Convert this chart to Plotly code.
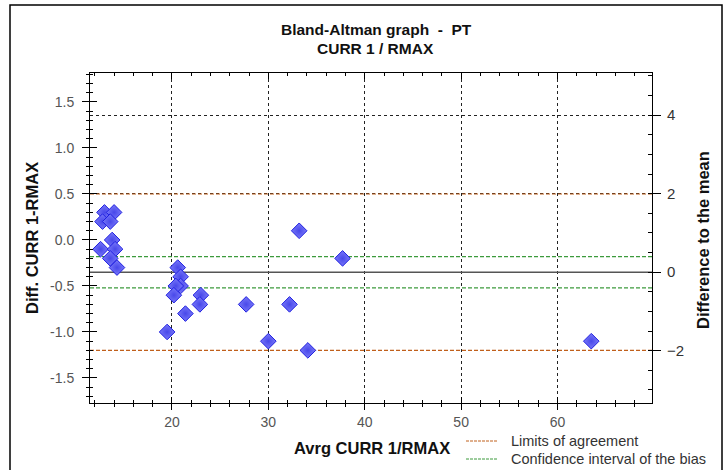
import plotly.graph_objects as go

# ---- data ----
avg_vals = [13.0, 14.0, 12.8, 13.6, 13.8, 12.6, 14.1, 13.6, 14.3,
            20.6, 20.9, 20.9, 20.4, 20.2, 23.0, 22.9, 21.4, 19.5,
            27.7, 30.0, 33.2, 37.7, 32.2, 34.1, 63.5]
diff_vals = [0.3, 0.3, 0.2, 0.2, 0.0, -0.1, -0.1, -0.2, -0.3,
             -0.3, -0.4, -0.5, -0.5, -0.6, -0.6, -0.7, -0.8, -1.0,
             -0.7, -1.1, 0.1, -0.2, -0.7, -1.2, -1.1]

bias = -0.35
loa_upper = 0.50
loa_lower = -1.20
ci_upper = -0.18
ci_lower = -0.52
sd_unit = 0.4266  # one unit of the right axis, in left-axis units

x_range = [11.5, 69.8]
y_range = [-1.772, 1.815]
y2_range = [(y_range[0] - bias) / sd_unit, (y_range[1] - bias) / sd_unit]

x_ticks = [20, 30, 40, 50, 60]
y_ticks = [-1.5, -1.0, -0.5, 0.0, 0.5, 1.0, 1.5]
y_ticklabels = ["-1.5", "-1.0", "-0.5", "0.0", "0.5", "1.0", "1.5"]
y2_ticks = [-2, 0, 2, 4]

FONT = "Liberation Sans, Arial, sans-serif"
LOA_COLOR = "#c0601c"
CI_COLOR = "#3c9a3c"

fig = go.Figure()

# reference lines
for val, col, dash, w in [(loa_upper, LOA_COLOR, "4px,2px", 1.2),
                          (loa_lower, LOA_COLOR, "4px,2px", 1.2),
                          (ci_upper, CI_COLOR, "4px,2px", 1.2),
                          (ci_lower, CI_COLOR, "4px,2px", 1.2),
                          (bias, "#555555", "solid", 1.5)]:
    fig.add_trace(go.Scatter(x=x_range, y=[val, val], mode="lines",
                             line=dict(color=col, dash=dash, width=w),
                             hoverinfo="skip", showlegend=False,
                             xaxis="x", yaxis="y"))

# data points
fig.add_trace(go.Scatter(x=avg_vals, y=diff_vals, mode="markers",
                         marker=dict(symbol="diamond", size=12, color="#7878f8",
                                     gradient=dict(type="radial", color="#4848ea"),
                                     line=dict(color="#2020e0", width=1)),
                         showlegend=False, xaxis="x", yaxis="y"))

# dummy traces so the overlay axes are drawn
fig.add_trace(go.Scatter(x=[None], y=[None], xaxis="x2", yaxis="y3",
                         showlegend=False, hoverinfo="skip"))
fig.add_trace(go.Scatter(x=[None], y=[None], xaxis="x3", yaxis="y2",
                         showlegend=False, hoverinfo="skip"))

tickfont = dict(family=FONT, size=14, color="#555555")

fig.update_layout(
    width=728, height=470,
    margin=dict(l=90, r=76, t=73, b=67),
    paper_bgcolor="white", plot_bgcolor="white",
    showlegend=False,
    xaxis=dict(range=x_range, tickvals=x_ticks, ticks="outside", ticklen=6,
               tickcolor="black", showline=True, linecolor="black", linewidth=1,
               showgrid=True, gridcolor="#222222", griddash="dot", gridwidth=1,
               zeroline=False, tickfont=tickfont,
               minor=dict(dtick=2, tick0=0, ticks="outside", ticklen=3,
                          tickcolor="black", showgrid=False)),
    xaxis2=dict(range=x_range, overlaying="x", side="top", tickvals=x_ticks,
                ticks="inside", ticklen=6, tickcolor="black",
                showline=True, linecolor="black", showticklabels=False,
                showgrid=False, zeroline=False,
                minor=dict(dtick=2, tick0=0, ticks="inside", ticklen=3,
                           tickcolor="black", showgrid=False)),
    xaxis3=dict(range=x_range, overlaying="x", side="bottom", tickvals=x_ticks,
                ticks="inside", ticklen=6, tickcolor="black",
                showline=False, showticklabels=False, showgrid=False,
                zeroline=False,
                minor=dict(dtick=2, tick0=0, ticks="inside", ticklen=3,
                           tickcolor="black", showgrid=False)),
    yaxis=dict(range=y_range, tickvals=y_ticks, ticktext=y_ticklabels,
               ticks="outside", ticklen=7, tickcolor="black",
               showline=True, linecolor="black", showgrid=False, zeroline=False,
               tickfont=tickfont, ticklabelstandoff=5,
               minor=dict(dtick=0.1, tick0=0, ticks="outside", ticklen=3,
                          tickcolor="black", showgrid=False)),
    yaxis3=dict(range=y_range, overlaying="y", side="left", tickvals=y_ticks,
                ticks="inside", ticklen=7, tickcolor="black",
                showline=False, showticklabels=False, showgrid=False,
                zeroline=False,
                minor=dict(dtick=0.1, tick0=0, ticks="inside", ticklen=3,
                           tickcolor="black", showgrid=False)),
    yaxis2=dict(range=y2_range, overlaying="y", side="right", tickvals=y2_ticks,
                ticks="outside", ticklen=8, tickcolor="black",
                showline=True, linecolor="black", zeroline=False,
                showgrid=True, gridcolor="#222222", griddash="dot", gridwidth=1,
                tickfont=dict(family=FONT, size=15, color="#333333"),
                ticklabelstandoff=3,
                minor=dict(dtick=0.5, tick0=0, ticks="inside", ticklen=4,
                           tickcolor="black", showgrid=False)),
)

annotations = [
    dict(text="<b>Bland-Altman graph  -  PT</b>", x=376, y=30, size=15.5),
    dict(text="<b>CURR 1 / RMAX</b>", x=375, y=48, size=15.5),
    dict(text="<b>Avrg CURR 1/RMAX</b>", x=372, y=448, size=16.5),
    dict(text="<b>Diff. CURR 1-RMAX</b>", x=32, y=238, textangle=-90, size=16.5),
    dict(text="<b>Difference to the mean</b>", x=703, y=240, textangle=-90, size=16.5),
]
pw, ph = 728 - 90 - 76, 470 - 73 - 67
def px2paper(px, py):
    return (px - 90) / pw, (403 - py) / ph

for a in annotations:
    xp, yp = px2paper(a["x"], a["y"])
    fig.add_annotation(text=a["text"], x=xp, y=yp, xref="paper", yref="paper",
                       showarrow=False, xanchor="center", yanchor="middle",
                       textangle=a.get("textangle", 0),
                       font=dict(family=FONT, size=a["size"], color="#111111"))

# legend (drawn manually)
legend_items = [("Limits of agreement", LOA_COLOR, 441),
                ("Confidence interval of the bias", CI_COLOR, 459)]
for label, col, ypx in legend_items:
    x0, y0 = px2paper(466, ypx)
    x1, _ = px2paper(497, ypx)
    fig.add_shape(type="line", xref="paper", yref="paper", x0=x0, x1=x1, y0=y0, y1=y0,
                  line=dict(color=col, width=1, dash="3px,1px"))
    xt, _ = px2paper(509, ypx)
    fig.add_annotation(text=label, x=xt, y=y0, xref="paper", yref="paper",
                       showarrow=False, xanchor="left", yanchor="middle",
                       font=dict(family=FONT, size=14.5, color="#333333"))

# outer frame
fx0, fy0 = px2paper(10, 5)
fx1, fy1 = px2paper(722, 472)
fig.add_shape(type="rect", xref="paper", yref="paper", x0=fx0, x1=fx1, y0=fy1, y1=fy0,
              line=dict(color="black", width=1.5), fillcolor="rgba(0,0,0,0)")

fig.write_html("out.html", config={"displayModeBar": False},
               post_script="document.body.style.margin='0';document.body.style.overflow='hidden';")
